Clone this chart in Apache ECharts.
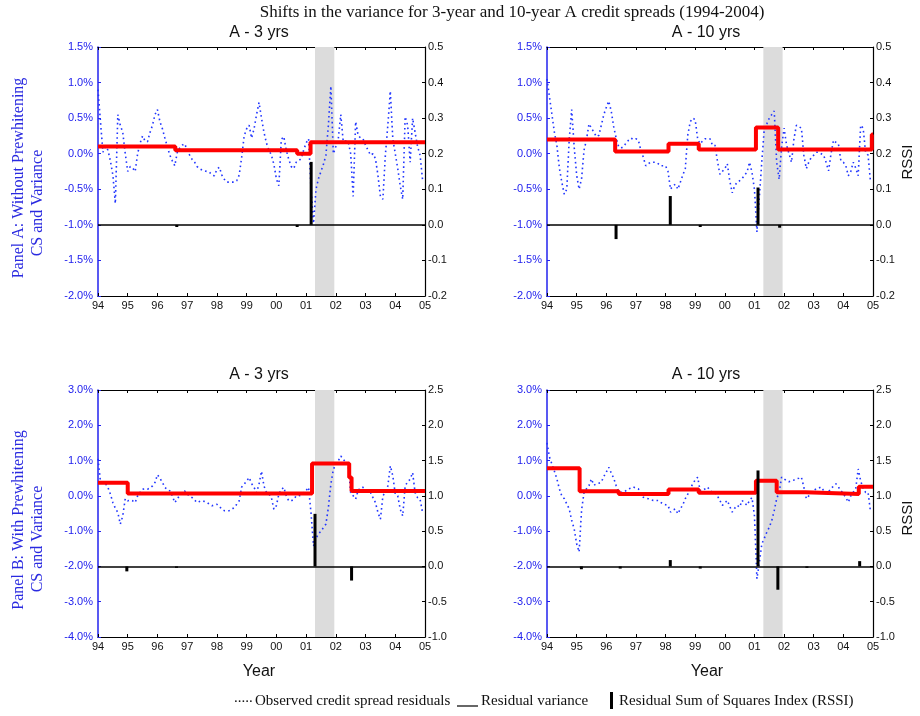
<!DOCTYPE html>
<html>
<head>
<meta charset="utf-8">
<title>Shifts in the variance</title>
<script src="https://cdn.jsdelivr.net/npm/echarts@6/dist/echarts.min.js"></script>
<style>
    html, body { margin: 0; padding: 0; background: #fff; }
    #chart { width: 920px; height: 716px; }
</style>
</head>
<body>
<div id="chart"></div>
<script>
// tick labels of the year axis
var yearLabels = ['94', '95', '96', '97', '98', '99', '00', '01', '02', '03', '04', '05'];
// shaded recession band (year fraction)
var recession = [2001.3, 2001.95];

// observed credit spread residuals, monthly Jan 1994 - Dec 2004 (%)
var residA3 = [
    0.90, 0.45, 0.02, 0.10, 0.05, -0.10, -0.30, -0.70, 0.55, 0.40, 0.30, 0.00,
    -0.25, -0.18, -0.20, -0.25, 0.00, 0.15, 0.25, 0.18, 0.17, 0.30, 0.40, 0.55,
    0.62, 0.45, 0.35, 0.22, 0.10, -0.02, -0.10, -0.17, 0.02, 0.08, 0.12, 0.14,
    0.05, -0.02, -0.08, -0.12, -0.18, -0.21, -0.23, -0.24, -0.25, -0.26, -0.30, -0.31,
    -0.22, -0.19, -0.30, -0.36, -0.40, -0.40, -0.40, -0.40, -0.38, -0.30, -0.05, 0.25,
    0.35, 0.40, 0.22, 0.35, 0.55, 0.72, 0.50, 0.30, 0.15, 0.05, -0.02, -0.15,
    -0.35, -0.45, 0.20, 0.24, 0.05, -0.08, -0.18, -0.21, -0.12, -0.10, -0.07, 0.05,
    0.15, 0.21, -0.50, -0.98, -0.50, -0.35, -0.25, -0.15, -0.02, 0.40, 0.95, 0.00,
    0.10, 0.21, 0.55, 0.17, 0.18, 0.17, 0.00, -0.60, 0.45, 0.26, 0.22, 0.21,
    0.12, 0.05, -0.02, 0.00, -0.07, -0.30, -0.60, -0.64, -0.02, 0.40, 0.88, 0.21,
    0.00, -0.21, -0.45, -0.64, 0.52, 0.40, -0.12, 0.50, 0.30, 0.10, -0.02, -0.36
];
var residA10 = [
    1.05, 0.80, 0.55, 0.30, 0.12, -0.20, -0.40, -0.57, -0.50, 0.20, 0.62, 0.10,
    -0.30, -0.50, -0.35, 0.05, 0.20, 0.42, 0.36, 0.30, 0.24, 0.26, 0.40, 0.55,
    0.65, 0.74, 0.60, 0.38, 0.22, 0.10, 0.08, 0.10, 0.15, 0.19, 0.22, 0.20,
    0.21, 0.19, 0.05, -0.05, -0.17, -0.14, -0.12, -0.12, -0.12, -0.14, -0.17, -0.17,
    -0.17, -0.25, -0.50, -0.45, -0.43, -0.50, -0.40, -0.30, -0.21, 0.26, 0.45, 0.50,
    0.48, 0.21, 0.14, 0.18, 0.21, 0.21, 0.21, 0.12, 0.12, -0.10, -0.29, -0.25,
    -0.21, -0.14, -0.38, -0.55, -0.45, -0.40, -0.38, -0.35, -0.30, -0.26, -0.12, -0.26,
    -0.50, -1.10, -0.60, -0.10, 0.36, 0.42, 0.50, 0.55, 0.60, -0.12, -0.36, 0.10,
    0.36, 0.12, 0.00, -0.12, 0.21, 0.40, 0.38, 0.36, -0.02, -0.21, -0.12, -0.05,
    -0.02, 0.02, 0.02, 0.00, -0.02, -0.12, -0.24, 0.00, 0.19, 0.16, 0.14, -0.10,
    -0.12, -0.17, -0.31, -0.25, -0.12, -0.20, -0.31, 0.40, 0.36, 0.02, -0.02, -0.40
];
var residB3 = [
    1.05, 0.40, 0.38, 0.35, 0.24, 0.05, -0.19, -0.35, -0.47, -0.80, -0.57, -0.08,
    -0.14, -0.12, -0.14, -0.19, 0.00, 0.10, 0.19, 0.20, 0.19, 0.22, 0.28, 0.38,
    0.60, 0.50, 0.38, 0.24, 0.18, 0.14, 0.00, -0.19, -0.09, 0.02, 0.09, 0.14,
    0.05, 0.00, -0.05, -0.12, -0.19, -0.16, -0.14, -0.16, -0.19, -0.24, -0.28, -0.26,
    -0.24, -0.30, -0.38, -0.42, -0.42, -0.42, -0.38, -0.33, -0.24, -0.14, 0.25, 0.33,
    0.42, 0.52, 0.35, 0.24, 0.09, 0.33, 0.70, 0.28, 0.10, 0.05, -0.05, -0.38,
    -0.28, 0.05, 0.18, 0.24, 0.00, -0.14, -0.14, -0.10, 0.00, 0.00, 0.02, 0.09,
    0.15, 0.24, -0.50, -1.42, -1.20, -1.08, -1.00, -0.90, -0.80, -0.33, 0.33, 0.75,
    0.90, 0.99, 1.13, 1.04, 0.95, 0.90, 0.09, 0.00, -0.09, 0.15, 0.24, 0.24,
    0.20, 0.14, 0.09, -0.05, -0.19, -0.47, -0.66, 0.00, 0.10, 0.28, 0.85, 0.57,
    0.05, 0.00, -0.38, -0.57, 0.28, 0.40, 0.47, 0.66, 0.09, -0.05, -0.09, -0.47
];
var residB10 = [
    1.50, 1.10, 0.90, 0.70, 0.48, 0.20, 0.00, -0.08, -0.23, -0.37, -0.70, -0.93,
    -1.36, -1.59, -0.40, 0.10, 0.20, 0.29, 0.48, 0.30, 0.34, 0.36, 0.39, 0.55,
    0.67, 0.81, 0.65, 0.50, 0.29, 0.12, 0.10, 0.10, 0.15, 0.20, 0.22, 0.25,
    0.22, 0.20, 0.05, -0.04, -0.06, -0.08, -0.10, -0.13, -0.13, -0.13, -0.18, -0.23,
    -0.25, -0.27, -0.46, -0.40, -0.37, -0.51, -0.37, -0.25, -0.08, 0.05, 0.20, 0.34,
    0.45, 0.53, 0.15, 0.15, 0.20, 0.25, 0.15, 0.10, 0.10, 0.00, -0.13, -0.27,
    -0.20, -0.13, -0.30, -0.46, -0.35, -0.27, -0.32, -0.13, -0.20, -0.27, -0.13, -0.05,
    -0.56, -2.35, -1.88, -1.36, -1.20, -1.03, -0.89, -0.70, -0.42, -0.08, 0.10, 0.53,
    0.48, 0.43, 0.40, 0.43, 0.45, 0.48, 0.50, 0.53, 0.25, -0.08, 0.00, 0.10,
    0.15, 0.20, 0.22, 0.25, 0.15, 0.06, 0.12, 0.20, 0.28, 0.34, 0.25, 0.15,
    0.06, -0.05, -0.18, 0.00, 0.10, 0.20, 0.76, 0.43, 0.20, 0.10, 0.10, -0.46
];

// residual variance regimes: [start, level %]
var varA3 = [[1994, 0.10], [1996.6, 0.05], [2000.7, 0.0], [2001.15, 0.16], [2005, 0.16]];
var varA10 = [[1994, 0.20], [1996.3, 0.03], [1998.1, 0.14], [1999.12, 0.06], [2001.05, 0.37],
    [2001.8, 0.06], [2004.96, 0.27], [2005, 0.27]];
var varB3 = [[1994, 0.37], [1995.0, 0.07], [2001.2, 0.92], [2002.45, 0.52], [2002.53, 0.14], [2005, 0.14]];
var varB10 = [[1994, 0.78], [1995.1, 0.13], [1996.42, 0.05], [1998.1, 0.18], [1999.12, 0.085],
    [2001.05, 0.43], [2001.75, 0.10], [2002.72, 0.05], [2004.52, 0.26], [2005, 0.26]];

// residual sum of squares index spikes: [date, RSSI]
var rssiA3 = [[1996.65, -0.006], [2000.7, -0.006], [2001.17, 0.177]];
var rssiA10 = [[1996.33, -0.04], [1998.16, 0.081], [1999.17, -0.006], [2001.12, 0.105], [2001.85, -0.008]];
var rssiB3 = [[1994.97, -0.07], [1996.64, -0.02], [2001.3, 0.745], [2002.53, -0.2]];
var rssiB10 = [[1995.16, -0.04], [1996.47, -0.03], [1998.16, 0.09], [1999.17, -0.03], [2001.12, 1.36],
    [2001.79, -0.33], [2002.77, -0.02], [2004.55, 0.075]];

// axis ranges [min, max, step]
var pctTop = [-2, 1.5, 0.5], rssiTop = [-0.2, 0.5, 0.1];
var pctBottom = [-4, 3, 1], rssiBottom = [-1, 2.5, 0.5];

var panels = [
    { resid: residA3, vari: varA3, rssi: rssiA3, pct: pctTop, rs: rssiTop, grid: { left: 98, top: 47, width: 327, height: 249 } },
    { resid: residA10, vari: varA10, rssi: rssiA10, pct: pctTop, rs: rssiTop, grid: { left: 547, top: 47, width: 326, height: 249 } },
    { resid: residB3, vari: varB3, rssi: rssiB3, pct: pctBottom, rs: rssiBottom, grid: { left: 98, top: 390, width: 327, height: 247 } },
    { resid: residB10, vari: varB10, rssi: rssiB10, pct: pctBottom, rs: rssiBottom, grid: { left: 547, top: 390, width: 326, height: 247 } }
];

var blue = '#2222ee';
var sans = 'Liberation Sans, Arial, sans-serif';
var serif = 'Liberation Serif, Times New Roman, serif';

function fmt1(v) {
    if (Math.abs(v) < 1e-9) return '0.0';
    return v.toFixed(1);
}

var grids = [], xAxes = [], yAxes = [], series = [];

panels.forEach(function (p, k) {
    grids.push(p.grid);

    xAxes.push({
        type: 'value', gridIndex: k, min: 1994, max: 2005, interval: 1,
        axisLine: { show: true, onZero: false, lineStyle: { color: '#000', width: 1.2 } },
        axisTick: { inside: true, length: 3, lineStyle: { color: '#000' } },
        axisLabel: {
            color: '#111', fontSize: 11, fontFamily: sans, margin: 4,
            formatter: function (v) { return yearLabels[Math.round(v - 1994)]; }
        },
        splitLine: { show: false }
    });
    xAxes.push({
        type: 'value', gridIndex: k, position: 'top', min: 1994, max: 2005, interval: 1,
        axisLine: { show: true, onZero: false, lineStyle: { color: '#000', width: 1.2 } },
        axisTick: { inside: true, length: 3, lineStyle: { color: '#000' } },
        axisLabel: { show: false },
        splitLine: { show: false }
    });

    yAxes.push({
        type: 'value', gridIndex: k, position: 'left',
        min: p.pct[0], max: p.pct[1], interval: p.pct[2],
        axisLine: { show: true, onZero: false, lineStyle: { color: blue, width: 1.5 } },
        axisTick: { show: true, inside: true, length: 3, lineStyle: { color: blue } },
        axisLabel: {
            color: blue, fontSize: 11, fontFamily: sans, margin: 5,
            formatter: function (v) { return fmt1(v) + '%'; }
        },
        splitLine: { show: false }
    });
    yAxes.push({
        type: 'value', gridIndex: k, position: 'right',
        min: p.rs[0], max: p.rs[1], interval: p.rs[2],
        axisLine: { show: true, onZero: false, lineStyle: { color: '#000', width: 1.2 } },
        axisTick: { show: true, inside: true, length: 3, lineStyle: { color: '#000' } },
        axisLabel: { color: '#111', fontSize: 11, fontFamily: sans, margin: 3, formatter: fmt1 },
        splitLine: { show: false }
    });

    // recession shading
    series.push({
        type: 'line', xAxisIndex: 2 * k, yAxisIndex: 2 * k, data: [], z: 1, silent: true,
        markArea: {
            silent: true,
            itemStyle: { color: '#dcdcdc' },
            data: [[{ xAxis: recession[0] }, { xAxis: recession[1] }]]
        }
    });
    // observed residuals
    series.push({
        type: 'line', xAxisIndex: 2 * k, yAxisIndex: 2 * k, z: 3,
        data: p.resid.map(function (v, i) { return [1994 + i / 12, v]; }),
        symbol: 'none',
        lineStyle: { color: '#2035ff', width: 1.6, type: [1.6, 3.2] }
    });
    // residual variance
    series.push({
        type: 'line', xAxisIndex: 2 * k, yAxisIndex: 2 * k, z: 4,
        step: 'end', data: p.vari, symbol: 'none',
        lineStyle: { color: '#ff0000', width: 4 }
    });
    // RSSI
    series.push({
        type: 'bar', xAxisIndex: 2 * k, yAxisIndex: 2 * k + 1, z: 5,
        data: p.rssi, barWidth: 3,
        itemStyle: { color: '#000' },
        markLine: {
            silent: true, symbol: ['none', 'none'],
            label: { show: false },
            lineStyle: { color: '#000', width: 1.5, type: 'solid' },
            data: [{ yAxis: 0 }]
        }
    });
});

function txt(x, y, text, opts) {
    var st = {
        text: text, fill: opts.color || '#111',
        font: opts.font, textAlign: opts.align || 'center', textVerticalAlign: 'middle'
    };
    return { type: 'text', x: x, y: y, rotation: opts.rotation || 0, style: st, silent: true };
}

var graphics = [
    txt(512, 13, 'Shifts in the variance for 3-year and 10-year A credit spreads (1994-2004)', { font: '17px ' + serif }),
    txt(259, 33, 'A - 3 yrs', { font: '16px ' + sans }),
    txt(706, 33, 'A - 10 yrs', { font: '16px ' + sans }),
    txt(259, 375, 'A - 3 yrs', { font: '16px ' + sans }),
    txt(706, 375, 'A - 10 yrs', { font: '16px ' + sans }),
    txt(259, 672, 'Year', { font: '16px ' + sans }),
    txt(707, 672, 'Year', { font: '16px ' + sans }),
    txt(908, 162, 'RSSI', { font: '15px ' + sans, rotation: Math.PI / 2 }),
    txt(908, 518, 'RSSI', { font: '15px ' + sans, rotation: Math.PI / 2 }),
    txt(19, 178, 'Panel A: Without Prewhitening', { font: '16px ' + serif, color: '#2a2ae0', rotation: Math.PI / 2 }),
    txt(38, 203, 'CS and Variance', { font: '16px ' + serif, color: '#2a2ae0', rotation: Math.PI / 2 }),
    txt(19, 520, 'Panel B: With Prewhitening', { font: '16px ' + serif, color: '#2a2ae0', rotation: Math.PI / 2 }),
    txt(38, 539, 'CS and Variance', { font: '16px ' + serif, color: '#2a2ae0', rotation: Math.PI / 2 }),
    // legend
    txt(234, 698, '.....', { font: '15px ' + serif, align: 'left' }),
    txt(255, 701, 'Observed credit spread residuals', { font: '15px ' + serif, align: 'left' }),
    { type: 'line', shape: { x1: 457, y1: 706, x2: 478, y2: 706 }, style: { stroke: '#000', lineWidth: 1.2 }, silent: true },
    txt(481, 701, 'Residual variance', { font: '15px ' + serif, align: 'left' }),
    { type: 'rect', shape: { x: 610, y: 692, width: 3, height: 17 }, style: { fill: '#000' }, silent: true },
    txt(619, 701, 'Residual Sum of Squares Index (RSSI)', { font: '15px ' + serif, align: 'left' })
];

var chart = echarts.init(document.getElementById('chart'));
chart.setOption({
    backgroundColor: '#fff',
    animation: false,
    grid: grids,
    xAxis: xAxes,
    yAxis: yAxes,
    series: series,
    graphic: graphics
});
</script>
</body>
</html>
